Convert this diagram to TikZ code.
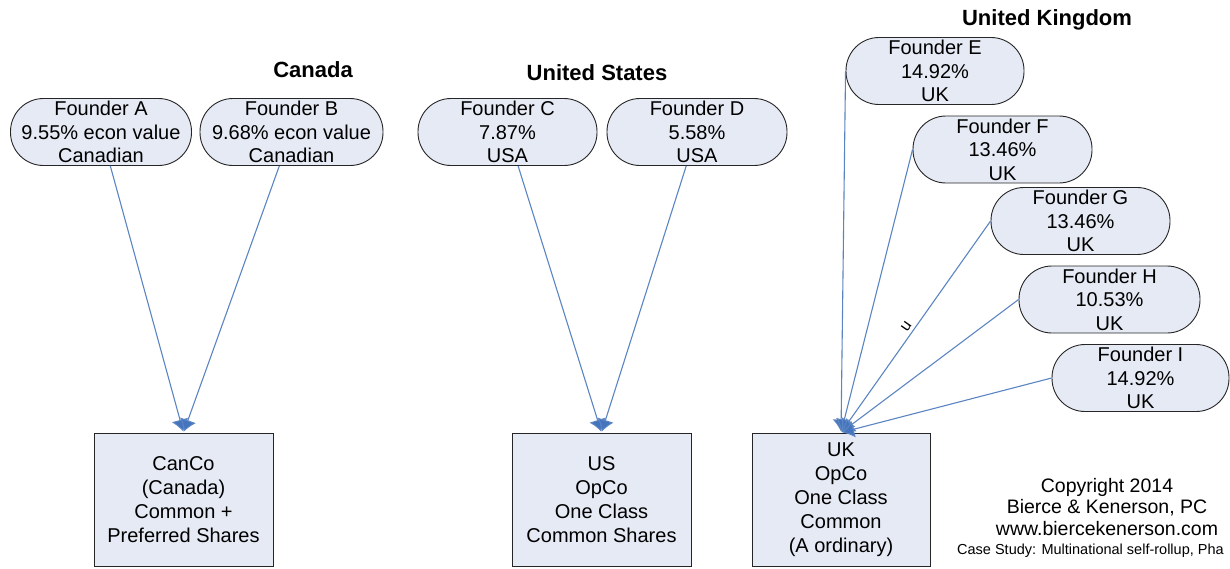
\documentclass[tikz,border=0pt]{standalone}
\usepackage{fontspec}
\setmainfont{Liberation Sans}
\usetikzlibrary{arrows.meta}
\definecolor{boxfill}{HTML}{E6EAF5}
\definecolor{linkblue}{HTML}{5A84C2}
\definecolor{tipblue}{HTML}{4474BE}
\begin{document}
\begin{tikzpicture}[x=1pt,y=-1pt,
  founder/.style={draw=black!85, line width=0.9pt, fill=boxfill, rounded corners=33pt,
    minimum height=67pt, inner sep=0pt, align=center,
    font=\fontsize{20}{23.5}\selectfont},
  company/.style={draw=black!85, line width=0.9pt, fill=boxfill,
    minimum height=133pt, minimum width=179pt, inner sep=0pt, align=center,
    font=\fontsize{20}{24}\selectfont},
  title/.style={font=\fontsize{22}{24}\selectfont\bfseries},
  link/.style={draw=linkblue, line width=1.1pt,
    -{Latex[length=12pt,width=17pt,fill=tipblue]}, shorten >=1pt},
  note/.style={font=\fontsize{19.5}{21}\selectfont}]
\useasboundingbox (0,0) rectangle (1230,568);
\clip (0,0) rectangle (1230,568);

% titles
\node[title] (tca) at (313,70) {Canada};
\node[title] (tus) at (597,73) {United States};
\node[title] (tuk) at (1047,20) {United Kingdom};

% founders
\node[founder, minimum width=181pt] (A) at (101,132) {Founder A\\9.55\% econ value\\Canadian};
\node[founder, minimum width=183pt] (B) at (291.5,132) {Founder B\\9.68\% econ value\\Canadian};
\node[founder, minimum width=179pt] (C) at (507.5,132) {Founder C\\7.87\%\\USA};
\node[founder, minimum width=180pt] (D) at (697,132) {Founder D\\5.58\%\\USA};
\node[founder, minimum width=178pt] (E) at (935,71) {Founder E\\14.92\%\\UK};
\node[founder, minimum width=179pt] (F) at (1002.5,149.5) {Founder F\\13.46\%\\UK};
\node[founder, minimum width=179pt] (G) at (1080.5,221) {Founder G\\13.46\%\\UK};
\node[founder, minimum width=181pt] (H) at (1109.5,299.5) {Founder H\\10.53\%\\UK};
\node[founder, minimum width=177pt] (I) at (1140.5,378) {Founder I\\14.92\%\\UK};

% companies
\node[company] (can) at (183.5,499.5) {CanCo\\(Canada)\\Common +\\Preferred Shares};
\node[company] (us) at (601.5,499.5) {US\\OpCo\\One Class\\Common Shares};
\node[company, minimum width=178pt] (uk) at (841,499.5) {UK\\OpCo\\One Class\\Common\\(A ordinary)};

% connectors
\draw[link] (A) -- (can.north);
\draw[link] (B) -- (can.north);
\draw[link] (C) -- (us.north);
\draw[link] (D) -- (us.north);
\draw[link] (E.west) -- (uk.north);
\draw[link] (F.west) -- (uk.north);
\draw[link] (G.west) -- node[pos=0.52, above, sloped, font=\fontsize{16}{18}\selectfont, inner sep=3pt] {u} (uk.north);
\draw[link] (H.west) -- (uk.north);
\draw[link] (I.west) -- (uk.north);

% copyright
\node[note] (c1) at (1107,487) {Copyright 2014};
\node[note] (c2) at (1107,508) {Bierce \& Kenerson, PC};
\node[note] (c3) at (1107,529) {www.biercekenerson.com};
\node[font=\fontsize{14.5}{16}\selectfont, anchor=west, inner sep=0pt] (c4) at (957,551) {Case Study: Multinational self-rollup, Pha};
\end{tikzpicture}
\end{document}
